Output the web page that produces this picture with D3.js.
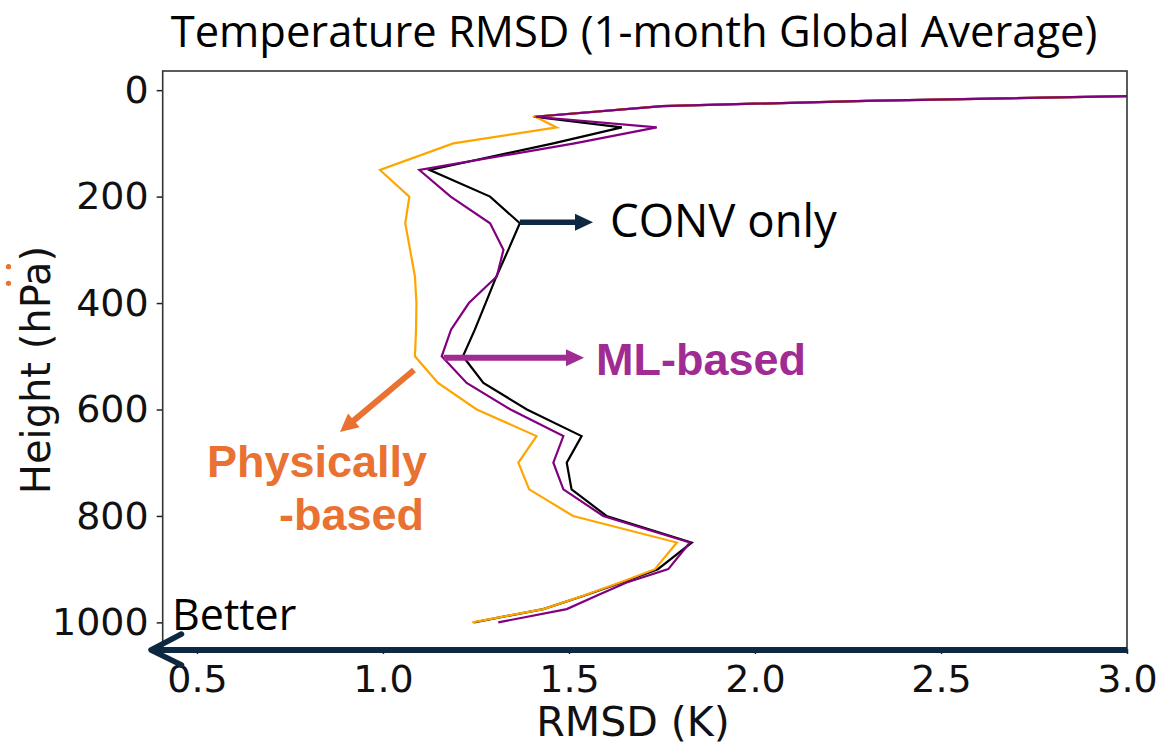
<!DOCTYPE html>
<html>
<head>
<meta charset="utf-8">
<script src="https://cdn.jsdelivr.net/npm/d3@7"></script>
<style>
  html, body { margin: 0; padding: 0; background: #fff; }
  svg { display: block; }
</style>
</head>
<body>
<svg id="chart" width="1163" height="746"></svg>
<script>
// Pressure levels (hPa) and temperature RMSD (K) for each experiment
const levels = [10, 20, 30, 50, 70, 100, 150, 200, 250, 300, 350, 400, 450, 500,
                550, 600, 650, 700, 750, 800, 850, 900, 925, 950, 975, 1000];
const convOnly = [3.10, 2.30, 1.75, 1.405, 1.642, 1.458, 1.126, 1.288, 1.368, 1.337, 1.305, 1.276, 1.247, 1.215,
                  1.270, 1.387, 1.534, 1.494, 1.507, 1.601, 1.830, 1.739, 1.642, 1.540, 1.431, 1.245];
const physBased = [3.10, 2.30, 1.75, 1.41, 1.467, 1.189, 0.992, 1.071, 1.060, 1.073, 1.086, 1.090, 1.089, 1.086,
                   1.148, 1.252, 1.413, 1.364, 1.393, 1.511, 1.790, 1.731, 1.637, 1.538, 1.431, 1.240];
const mlBased = [3.10, 2.30, 1.75, 1.41, 1.736, 1.515, 1.098, 1.182, 1.288, 1.324, 1.306, 1.231, 1.183, 1.158,
                 1.225, 1.343, 1.485, 1.458, 1.485, 1.592, 1.825, 1.767, 1.655, 1.574, 1.494, 1.310];

const xTicks = [0.5, 1.0, 1.5, 2.0, 2.5, 3.0];
const yTicks = [0, 200, 400, 600, 800, 1000];

const svg = d3.select("#chart");

const plot = { left: 162.7, right: 1127, top: 71, bottom: 649 };
const x = d3.scaleLinear().domain([0.408, 3.0]).range([plot.left, plot.right]);
const y = d3.scaleLinear().domain([-36, 1050]).range([plot.top, plot.bottom]);

const NAVY = "#0E2841", PURPLE = "#A02B93", ORANGE = "#E97132";
const AXIS_FONT = "'DejaVu Sans', sans-serif";
const TEXT_FONT = "'Open Sans', sans-serif";
const BOLD_FONT = "'Liberation Sans', Arial, sans-serif";

// Title
svg.append("text")
  .attr("x", 634).attr("y", 47)
  .attr("text-anchor", "middle")
  .attr("font-family", TEXT_FONT).attr("font-size", 43.5)
  .attr("fill", "#000")
  .text("Temperature RMSD (1-month Global Average)");

// Clip region for the profiles
svg.append("defs").append("clipPath").attr("id", "plotClip")
  .append("rect")
  .attr("x", plot.left).attr("y", plot.top)
  .attr("width", plot.right - plot.left).attr("height", plot.bottom - plot.top);

// Axes
const yAxis = svg.append("g")
  .attr("transform", `translate(${plot.left},0)`)
  .call(d3.axisLeft(y).tickValues(yTicks).tickFormat(d3.format("d")).tickSize(6).tickPadding(8));
yAxis.select(".domain").remove();
yAxis.selectAll("line").attr("stroke", "#222").attr("stroke-width", 1.5);
yAxis.selectAll("text").attr("font-family", AXIS_FONT).attr("font-size", 38).attr("fill", "#111");

const xAxis = svg.append("g")
  .attr("transform", `translate(0,${plot.bottom})`)
  .call(d3.axisBottom(x).tickValues(xTicks).tickFormat(d3.format(".1f")).tickSize(5).tickPadding(11));
xAxis.select(".domain").remove();
xAxis.selectAll("line").attr("stroke", "#222").attr("stroke-width", 1.5);
xAxis.selectAll("text").attr("font-family", AXIS_FONT).attr("font-size", 38).attr("fill", "#111");

// Axis titles
svg.append("text")
  .attr("x", 633).attr("y", 736)
  .attr("text-anchor", "middle")
  .attr("font-family", AXIS_FONT).attr("font-size", 41).attr("fill", "#111")
  .text("RMSD (K)");
svg.append("text")
  .attr("transform", "translate(50,370) rotate(-90)")
  .attr("text-anchor", "middle")
  .attr("font-family", AXIS_FONT).attr("font-size", 40).attr("fill", "#111")
  .text("Height (hPa)");

// Profiles
const line = d3.line()
  .x(d => x(d[1]))
  .y(d => y(d[0]));
const series = [
  { name: "CONV only", values: convOnly, color: "#000000" },
  { name: "Physically-based", values: physBased, color: "#FFA500" },
  { name: "ML-based", values: mlBased, color: "#800080" }
];
const profiles = svg.append("g").attr("clip-path", "url(#plotClip)");
series.forEach(s => {
  profiles.append("path")
    .datum(levels.map((p, i) => [p, s.values[i]]))
    .attr("d", line)
    .attr("fill", "none")
    .attr("stroke", s.color)
    .attr("stroke-width", 2.2)
    .attr("stroke-linejoin", "miter");
});

// Frame
svg.append("rect")
  .attr("x", plot.left).attr("y", plot.top)
  .attr("width", plot.right - plot.left).attr("height", plot.bottom - plot.top)
  .attr("fill", "none").attr("stroke", "#333").attr("stroke-width", 1.6);

// Straight arrow with filled head
function arrow(x1, y1, x2, y2, color, width, headLen, headHalf) {
  const ang = Math.atan2(y2 - y1, x2 - x1);
  const bx = x2 - headLen * Math.cos(ang), by = y2 - headLen * Math.sin(ang);
  svg.append("line")
    .attr("x1", x1).attr("y1", y1).attr("x2", bx + Math.cos(ang)).attr("y2", by + Math.sin(ang))
    .attr("stroke", color).attr("stroke-width", width);
  const nx = -Math.sin(ang) * headHalf, ny = Math.cos(ang) * headHalf;
  svg.append("path")
    .attr("d", `M${x2},${y2}L${bx + nx},${by + ny}L${bx - nx},${by - ny}Z`)
    .attr("fill", color);
}

// CONV only label
const convAnchor = [x(convOnly[levels.indexOf(250)]), y(250)];
arrow(convAnchor[0], convAnchor[1] - 1, 593, convAnchor[1] - 1, NAVY, 5.5, 18, 8.5);
svg.append("text")
  .attr("x", 610).attr("y", 237)
  .attr("font-family", TEXT_FONT).attr("font-size", 45.5).attr("fill", "#000")
  .text("CONV only");

// ML-based label
const mlAnchor = [x(mlBased[levels.indexOf(500)]) + 2, y(500) + 1.5];
arrow(mlAnchor[0], mlAnchor[1], 584, mlAnchor[1], PURPLE, 6, 18, 8.5);
svg.append("text")
  .attr("x", 596).attr("y", 375)
  .attr("font-family", BOLD_FONT).attr("font-weight", "bold").attr("font-size", 45).attr("fill", PURPLE)
  .text("ML-based");

// Physically-based label
arrow(414, 370, 340, 432, ORANGE, 6, 18, 9);
svg.append("text")
  .attr("font-family", BOLD_FONT).attr("font-weight", "bold").attr("font-size", 45).attr("fill", ORANGE)
  .call(t => {
    t.append("tspan").attr("x", 207).attr("y", 477).text("Physically");
    t.append("tspan").attr("x", 279).attr("y", 530).text("-based");
  });

// "Better" direction arrow along the bottom of the frame
svg.append("line")
  .attr("x1", plot.right).attr("y1", 650).attr("x2", 153).attr("y2", 650)
  .attr("stroke", NAVY).attr("stroke-width", 6);
svg.append("path")
  .attr("d", "M181.5,634L151,650L181.5,665")
  .attr("fill", "none").attr("stroke", NAVY).attr("stroke-width", 5.5)
  .attr("stroke-linecap", "round").attr("stroke-linejoin", "round");
svg.append("text")
  .attr("x", 172).attr("y", 630)
  .attr("font-family", TEXT_FONT).attr("font-size", 43).attr("fill", "#000")
  .text("Better");

// Small orange marks at the left margin
[266.7, 283.3].forEach(cy => {
  svg.append("circle").attr("cx", 8.5).attr("cy", cy).attr("r", 2.6).attr("fill", ORANGE);
});
</script>
</body>
</html>
